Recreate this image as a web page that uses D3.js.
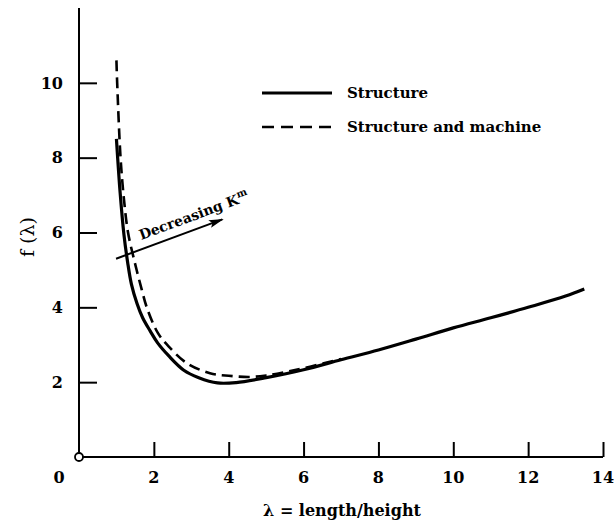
<!DOCTYPE html>
<html>
<head>
<meta charset="utf-8">
<script src="https://cdn.jsdelivr.net/npm/d3@7/dist/d3.min.js"></script>
<style>
  body { margin: 0; background: #fff; }
  svg text { font-family: "DejaVu Serif", "Liberation Serif", serif; fill: #000; }
</style>
</head>
<body>
<div id="chart"></div>
<script>
// f(lambda) for the structure alone
const lambdaStructure = [1.0, 1.1, 1.2, 1.3, 1.4, 1.55, 1.7, 1.9, 2.1, 2.4, 2.8, 3.2, 3.7, 4.2, 5, 6, 7, 8, 9, 10, 11, 12, 13, 13.5];
const fStructure      = [8.5, 7.05, 5.95, 5.2, 4.62, 4.1, 3.72, 3.37, 3.05, 2.7, 2.32, 2.12, 1.98, 1.99, 2.12, 2.33, 2.6, 2.86, 3.15, 3.45, 3.72, 4.0, 4.3, 4.49];

// f(lambda) for structure and machine
const lambdaMachine = [1.0, 1.02, 1.11, 1.2, 1.31, 1.49, 1.68, 1.81, 2.11, 2.4, 2.88, 3.5, 4.0, 4.57, 5.0, 5.56, 6.2, 7.0];
const fMachine      = [10.6, 10.0, 8.0, 6.9, 6.0, 5.2, 4.46, 4.0, 3.31, 2.95, 2.51, 2.24, 2.17, 2.14, 2.18, 2.28, 2.42, 2.62];

const xTicks = [2, 4, 6, 8, 10, 12, 14];
const yTicks = [2, 4, 6, 8, 10];
const legendLabels = ['Structure', 'Structure and machine'];

// annotation arrow, in data units
const arrowFrom = [0.99, 5.3];
const arrowTo = [3.83, 6.35];
const annotationAt = [1.66, 5.8];

const w = 615, h = 528;
const x = d3.scaleLinear().domain([0, 14]).range([79, 603]);
const y = d3.scaleLinear().domain([0, 12]).range([457, 8]);

const svg = d3.select('#chart').append('svg')
  .attr('width', w)
  .attr('height', h);

// axes lines
svg.append('line')
  .attr('x1', x(0)).attr('x2', x(14))
  .attr('y1', y(0)).attr('y2', y(0))
  .attr('stroke', '#000').attr('stroke-width', 2);
svg.append('line')
  .attr('x1', x(0)).attr('x2', x(0))
  .attr('y1', y(0)).attr('y2', y(12))
  .attr('stroke', '#000').attr('stroke-width', 2);

// x axis ticks (pointing inward)
const xAxis = d3.axisTop(x).tickValues(xTicks).tickSize(15).tickFormat('');
svg.append('g')
  .attr('transform', `translate(0,${y(0)})`)
  .call(xAxis)
  .call(g => g.select('.domain').remove())
  .call(g => g.selectAll('.tick line').attr('stroke-width', 2));

svg.append('g').selectAll('text')
  .data([0].concat(xTicks))
  .enter().append('text')
  .attr('x', d => d === 0 ? x(0) - 20 : x(d))
  .attr('y', 483)
  .attr('text-anchor', 'middle')
  .attr('font-size', 16)
  .attr('font-weight', 'bold')
  .text(d => d);

// y axis ticks (pointing inward)
const yAxis = d3.axisRight(y).tickValues(yTicks).tickSize(18).tickFormat('');
svg.append('g')
  .attr('transform', `translate(${x(0)},0)`)
  .call(yAxis)
  .call(g => g.select('.domain').remove())
  .call(g => g.selectAll('.tick line').attr('stroke-width', 2));

svg.append('g').selectAll('text')
  .data(yTicks)
  .enter().append('text')
  .attr('x', 63)
  .attr('y', d => y(d))
  .attr('dy', '0.36em')
  .attr('text-anchor', 'end')
  .attr('font-size', 16)
  .attr('font-weight', 'bold')
  .text(d => d);

// open circle at origin
svg.append('circle')
  .attr('cx', x(0)).attr('cy', y(0)).attr('r', 4)
  .attr('fill', '#fff').attr('stroke', '#000').attr('stroke-width', 1.8);

// curves
const line = d3.line()
  .x(d => x(d[0]))
  .y(d => y(d[1]))
  .curve(d3.curveCatmullRom.alpha(0.5));

svg.append('path')
  .datum(d3.zip(lambdaMachine, fMachine))
  .attr('d', line)
  .attr('fill', 'none')
  .attr('stroke', '#000')
  .attr('stroke-width', 2.6)
  .attr('stroke-dasharray', '11,6');

svg.append('path')
  .datum(d3.zip(lambdaStructure, fStructure))
  .attr('d', line)
  .attr('fill', 'none')
  .attr('stroke', '#000')
  .attr('stroke-width', 3.2);

// legend
const legend = svg.append('g').attr('transform', 'translate(262,93)');
legend.append('line')
  .attr('x1', 0).attr('x2', 70).attr('y1', 0).attr('y2', 0)
  .attr('stroke', '#000').attr('stroke-width', 3.2);
legend.append('line')
  .attr('x1', 0).attr('x2', 70).attr('y1', 34).attr('y2', 34)
  .attr('stroke', '#000').attr('stroke-width', 2.6)
  .attr('stroke-dasharray', '12,7');
legend.selectAll('text.lab')
  .data(legendLabels)
  .enter().append('text')
  .attr('class', 'lab')
  .attr('x', 85)
  .attr('y', (d, i) => i * 34 + 5)
  .attr('font-size', 15)
  .attr('font-weight', 'bold')
  .text(d => d);

// arrow annotation
svg.append('defs').append('marker')
  .attr('id', 'head')
  .attr('viewBox', '0 0 10 10')
  .attr('preserveAspectRatio', 'none')
  .attr('refX', 9).attr('refY', 5)
  .attr('markerWidth', 15).attr('markerHeight', 8)
  .attr('markerUnits', 'userSpaceOnUse')
  .attr('orient', 'auto')
  .append('path')
  .attr('d', 'M0,0 L10,5 L0,10 L2,5 Z')
  .attr('fill', '#000');

svg.append('line')
  .attr('x1', x(arrowFrom[0])).attr('y1', y(arrowFrom[1]))
  .attr('x2', x(arrowTo[0])).attr('y2', y(arrowTo[1]))
  .attr('stroke', '#000').attr('stroke-width', 2)
  .attr('marker-end', 'url(#head)');

const ang = Math.atan2(y(arrowTo[1]) - y(arrowFrom[1]), x(arrowTo[0]) - x(arrowFrom[0])) * 180 / Math.PI;
const ann = svg.append('text')
  .attr('transform', `translate(${x(annotationAt[0])},${y(annotationAt[1])}) rotate(${ang})`)
  .attr('font-size', 14)
  .attr('font-weight', 'bold');
ann.append('tspan').text('Decreasing K');
ann.append('tspan').attr('dy', -6).attr('font-size', 10).text('m');

// axis titles
svg.append('text')
  .attr('x', 342)
  .attr('y', 516)
  .attr('text-anchor', 'middle')
  .attr('font-size', 16)
  .attr('font-weight', 'bold')
  .text('λ = length/height');

svg.append('text')
  .attr('transform', 'translate(34,237) rotate(-90)')
  .attr('text-anchor', 'middle')
  .attr('font-family', '"Liberation Serif", serif')
  .attr('font-size', 19)
  .text('f (λ)');
</script>
</body>
</html>
